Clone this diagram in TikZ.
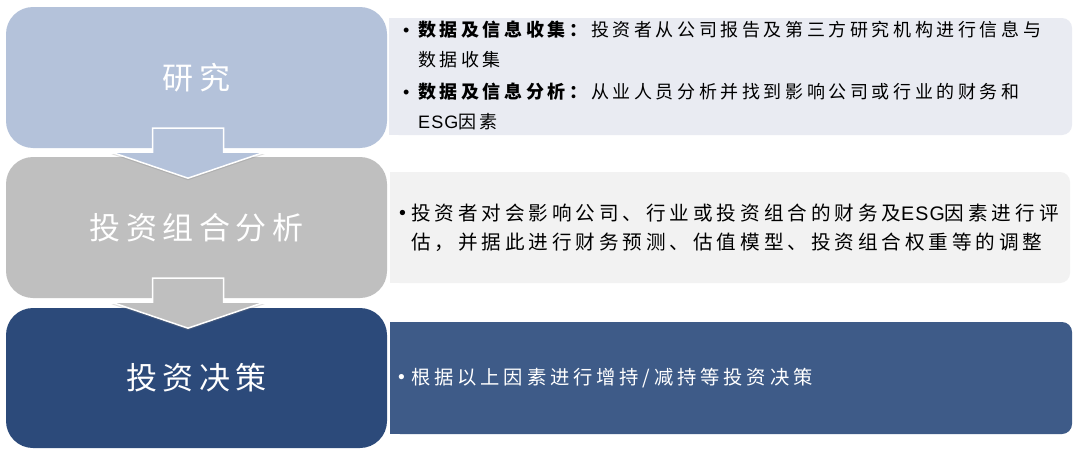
\documentclass[tikz,border=0pt]{standalone}
\usepackage{fontspec}
\setmainfont{Liberation Sans}
\newfontfamily\cjk[LetterSpace=20]{Noto Sans CJK SC}
\newfontfamily\cjkbig[LetterSpace=18]{Noto Sans CJK SC}
\newfontfamily\bulfont{Liberation Sans}
\newfontfamily\latfont[LetterSpace=6]{Liberation Sans}
\usetikzlibrary{shadows,calc}
\definecolor{bone}{HTML}{B4C2DA}
\definecolor{btwo}{HTML}{BFBFBF}
\definecolor{bthree}{HTML}{2C4A7A}
\definecolor{pone}{HTML}{E9EBF2}
\definecolor{ptwo}{HTML}{F2F2F2}
\definecolor{pthree}{HTML}{3E5B88}
\newcommand\bulit[1]{\makebox[#1][l]{\bulfont\raisebox{0.5pt}{•}}}
\newcommand\esg{{\latfont ESG}}
\tikzset{
  lbox/.style={rectangle, rounded corners=27pt, minimum width=381pt, inner sep=0pt,
    text=white, font=\cjkbig\fontsize{31}{36}\selectfont},
  line/.style={anchor=west, inner sep=0pt, font=\cjk\fontsize{18}{22}\selectfont},
  bigline/.style={anchor=west, inner sep=0pt, font=\cjk\fontsize{19.6}{23}\selectfont},
  smline/.style={anchor=west, inner sep=0pt, font=\cjk\fontsize{19.3}{23}\selectfont},
  flowarrow/.style={draw=white, line width=1.5pt, line join=miter,
    drop shadow={opacity=0.25, shadow xshift=0pt, shadow yshift=-2pt}}
}
\begin{document}
\begin{tikzpicture}[x=1pt,y=-1pt]
\useasboundingbox (0,0) rectangle (1080,455);
\fill[white] (0,0) rectangle (1080,455);
% right panels
\fill[pone, rounded corners=10pt] (389,18) rectangle (1072,135);
\fill[pone] (389,18) rectangle (420,135);
\fill[ptwo, rounded corners=10pt] (390,172) rectangle (1070,283);
\fill[ptwo] (390,172) rectangle (420,283);
\fill[pthree, rounded corners=10pt] (390,322) rectangle (1072,434);
\fill[pthree] (390,322) rectangle (420,434);
% left boxes
\node[lbox, fill=bone, minimum height=141pt] (b1) at (196.5,77.5) {研究};
\node[lbox, fill=btwo, minimum height=141pt] (b2) at (196.5,227.5) {投资组合分析};
\node[lbox, fill=bthree, minimum height=140pt] (b3) at (196.5,378) {投资决策};
% arrows
\coordinate (a1) at ($(b1.south)+(-8.5,-20)$);
\coordinate (a2) at ($(b2.south)+(-8.5,-20)$);
\begin{scope}[shift={(a1)}]
\path[flowarrow, fill=bone] (-35.5,0) -- (35.5,0) -- (35.5,24) -- (76.5,24) -- (0,50) -- (-76.5,24) -- (-35.5,24) -- cycle;
\end{scope}
\begin{scope}[shift={(a2)}]
\path[flowarrow, fill=btwo] (-35.5,0) -- (35.5,0) -- (35.5,24) -- (76.5,24) -- (0,50) -- (-76.5,24) -- (-35.5,24) -- cycle;
\end{scope}
% texts
\node[line] (t11) at (403,30) {\bulit{15pt}\textbf{数据及信息收集：}投资者从公司报告及第三方研究机构进行信息与};
\node[line] (t12) at (418,60) {数据收集};
\node[line] (t21) at (403,92) {\bulit{15pt}\textbf{数据及信息分析：}从业人员分析并找到影响公司或行业的财务和};
\node[line] (t22) at (418,122) {\esg 因素};
\node[bigline] (t31) at (399,213) {\bulit{12pt}投资者对会影响公司、行业或投资组合的财务及\esg 因素进行评};
\node[bigline] (t32) at (411,242) {估，并据此进行财务预测、估值模型、投资组合权重等的调整};
\node[smline, text=white] (t41) at (398,378) {\bulit{13pt}根据以上因素进行增持/减持等投资决策};
\end{tikzpicture}
\end{document}
